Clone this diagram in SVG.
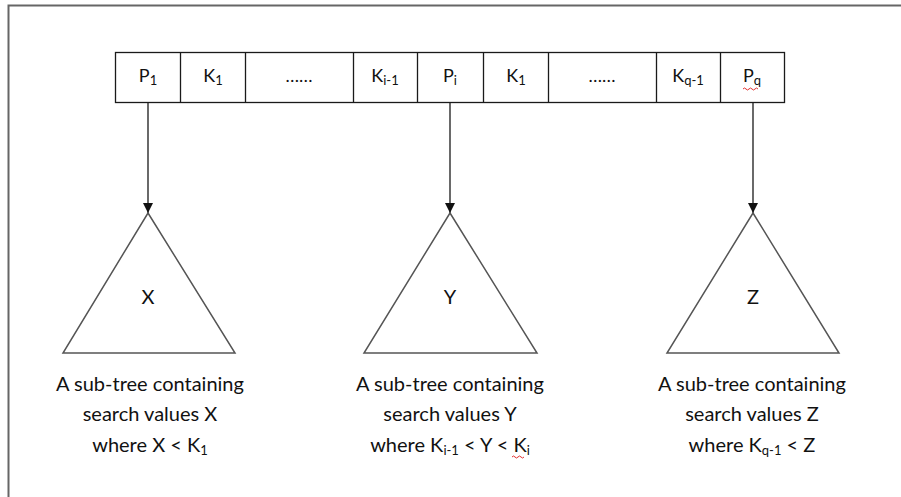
<svg xmlns="http://www.w3.org/2000/svg" width="901" height="497" viewBox="0 0 901 497">
<defs>
<style>
.ln{fill:none;stroke:#1a1a1a;stroke-width:1.3}
.tri{fill:#fff;stroke:#555;stroke-width:1.5}
.t{font-family:Lato,"Open Sans",sans-serif;font-size:20px;fill:#111;text-anchor:middle}
.c{font-family:Lato,"Open Sans",sans-serif;font-size:18px;fill:#111;text-anchor:middle}
.sub{font-size:13px}
.sq{fill:none;stroke:#e03030;stroke-width:1}
</style>
<marker id="ah" viewBox="0 0 10 12" refX="10" refY="5" markerWidth="10" markerHeight="12" markerUnits="userSpaceOnUse" orient="auto">
<path d="M0,0 L10,5 L0,10 Z" fill="#111"/>
</marker>
</defs>
<rect width="901" height="497" fill="#fff"/>
<path d="M8.5,497 V5.5 H901" fill="none" stroke="#666" stroke-width="2"/>
<g id="record">
<rect x="115.5" y="52.5" width="669" height="50" class="ln" fill="#fff"/>
<path class="ln" d="M180.5,52.5V102.5M245.5,52.5V102.5M353.5,52.5V102.5M417.5,52.5V102.5M483.5,52.5V102.5M548.5,52.5V102.5M656.5,52.5V102.5M720.5,52.5V102.5"/>
<text class="c" x="148" y="82">P<tspan class="sub" dy="3">1</tspan></text>
<text class="c" x="213" y="82">K<tspan class="sub" dy="3">1</tspan></text>
<text class="c" x="299" y="82">……</text>
<text class="c" x="385" y="82">K<tspan class="sub" dy="3">i-1</tspan></text>
<text class="c" x="450" y="82">P<tspan class="sub" dy="3">i</tspan></text>
<text class="c" x="516" y="82">K<tspan class="sub" dy="3">1</tspan></text>
<text class="c" x="602" y="82">……</text>
<text class="c" x="688" y="82">K<tspan class="sub" dy="3">q-1</tspan></text>
<text class="c" x="752" y="82">P<tspan class="sub" dy="3">q</tspan></text>
<path class="sq" d="M743,89 q1.5,-2 3,0 t3,0 t3,0 t3,0 t3,0"/>
</g>
<g id="connectors">
<line class="ln" x1="148" y1="103" x2="148" y2="213" marker-end="url(#ah)"/>
<line class="ln" x1="450" y1="103" x2="450" y2="213" marker-end="url(#ah)"/>
<line class="ln" x1="753" y1="103" x2="753" y2="213" marker-end="url(#ah)"/>
</g>
<g id="treeX">
<polygon class="tri" points="148,213 235,353 63,353"/>
<text class="t" x="148" y="304">X</text>
<text class="t" x="150" y="391">A sub-tree containing</text>
<text class="t" x="150" y="421">search values X</text>
<text class="t" x="150" y="452">where X &lt; K<tspan class="sub" dy="3">1</tspan></text>
</g>
<g id="treeY">
<polygon class="tri" points="450,213 537,353 364,353"/>
<text class="t" x="450" y="304">Y</text>
<text class="t" x="450" y="391">A sub-tree containing</text>
<text class="t" x="450" y="421">search values Y</text>
<text class="t" x="450" y="452">where K<tspan class="sub" dy="3">i-1</tspan><tspan dy="-3"> &lt; Y &lt; K</tspan><tspan class="sub" dy="3">i</tspan></text>
<path class="sq" d="M512,457 q1.5,-2 3,0 t3,0 t3,0 t3,0"/>
</g>
<g id="treeZ">
<polygon class="tri" points="753,213 839,353 667,353"/>
<text class="t" x="753" y="304">Z</text>
<text class="t" x="752" y="391">A sub-tree containing</text>
<text class="t" x="752" y="421">search values Z</text>
<text class="t" x="752" y="452">where K<tspan class="sub" dy="3">q-1</tspan><tspan dy="-3"> &lt; Z</tspan></text>
</g>
</svg>
